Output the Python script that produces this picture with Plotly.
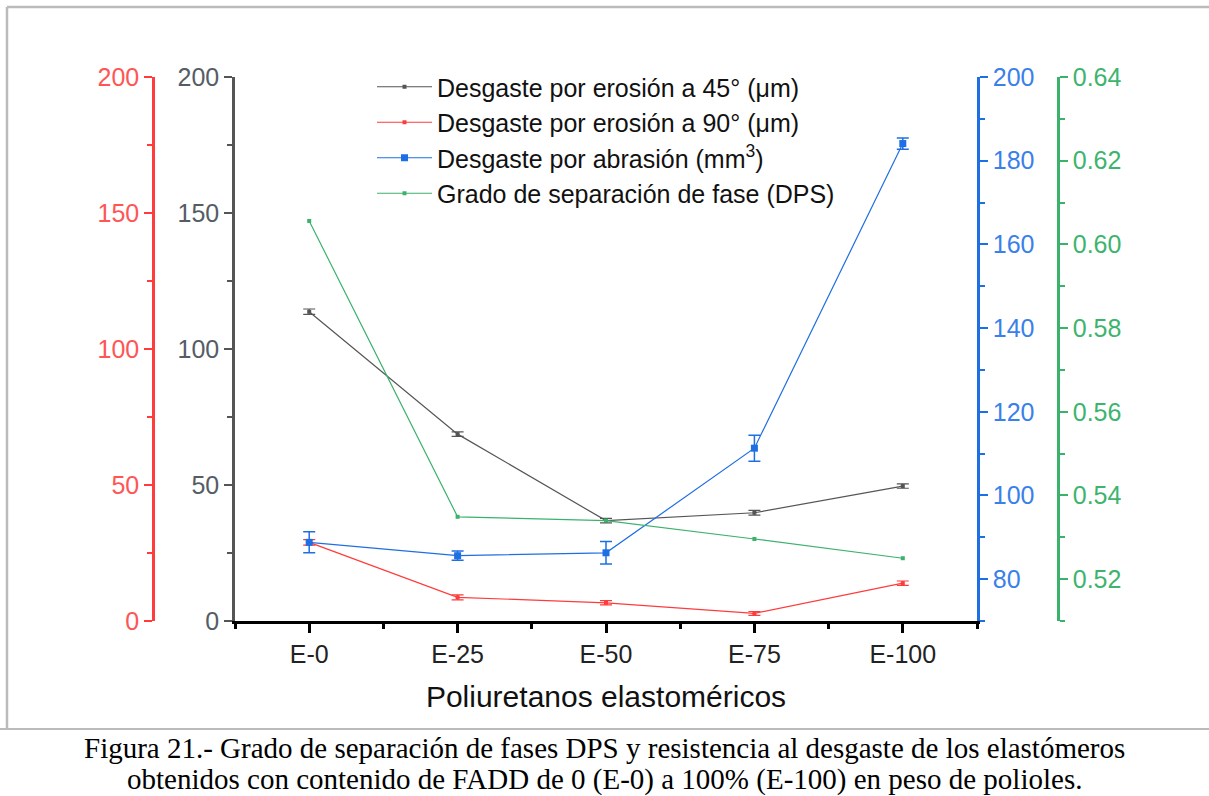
import plotly.graph_objects as go

categories = ["E-0", "E-25", "E-50", "E-75", "E-100"]
erosion45 = [113.7, 68.7, 36.9, 39.8, 49.6]
erosion45_err = [1.0, 0.8, 0.8, 0.9, 0.8]
erosion90 = [28.9, 8.7, 6.7, 2.8, 13.9]
erosion90_err = [1.0, 0.9, 0.8, 0.7, 0.8]
abrasion = [88.8, 85.6, 86.3, 111.3, 184.1]
abrasion_err = [2.5, 1.1, 2.7, 3.1, 1.35]
dps = [0.6056, 0.5349, 0.5340, 0.5296, 0.5250]

x = list(range(len(categories)))
W, H = 1209, 796

def px(v):
    return v / W

def py(v):
    return 1 - v / H

C_BLACK = "#555555"
C_RED = "#FF3B3B"
C_BLUE = "#1E6FE3"
C_GREEN = "#3BB26C"

fig = go.Figure()
fig.add_trace(go.Scatter(x=x, y=erosion45, name="Desgaste por erosión a 45° (μm)",
                         mode="lines+markers", line=dict(color=C_BLACK, width=1.2),
                         marker=dict(symbol="square", size=4, color=C_BLACK),
                         error_y=dict(type="data", array=erosion45_err, color=C_BLACK, thickness=1.2, width=6),
                         yaxis="y"))
fig.add_trace(go.Scatter(x=x, y=erosion90, name="Desgaste por erosión a 90° (μm)",
                         mode="lines+markers", line=dict(color=C_RED, width=1.2),
                         marker=dict(symbol="square", size=4, color=C_RED),
                         error_y=dict(type="data", array=erosion90_err, color=C_RED, thickness=1.2, width=6),
                         yaxis="y2"))
fig.add_trace(go.Scatter(x=x, y=abrasion, name="Desgaste por abrasión (mm<sup>3</sup>)",
                         mode="lines+markers", line=dict(color=C_BLUE, width=1.2),
                         marker=dict(symbol="square", size=7, color=C_BLUE),
                         error_y=dict(type="data", array=abrasion_err, color=C_BLUE, thickness=1.5, width=6),
                         yaxis="y3"))
fig.add_trace(go.Scatter(x=x, y=dps, name="Grado de separación de fase (DPS)",
                         mode="lines+markers", line=dict(color=C_GREEN, width=1.2),
                         marker=dict(symbol="square", size=4, color=C_GREEN),
                         yaxis="y4"))

xd = [px(235), px(977)]
yd = [py(621), py(77)]
tickfont = dict(family="Arial, Liberation Sans, sans-serif", size=25)

def yax(color, textcolor, rng, dtick, minor_dtick, **kw):
    d = dict(range=rng, domain=yd, showgrid=False, zeroline=False,
             showline=True, linecolor=color, linewidth=2.5,
             ticks="outside", ticklen=8, tickwidth=2, tickcolor=color,
             dtick=dtick, tick0=0, automargin=False,
             minor=dict(ticks="outside", ticklen=5, tickwidth=2, tickcolor=color, dtick=minor_dtick, tick0=0),
             tickfont=dict(tickfont, color=textcolor))
    d.update(kw)
    return d

fig.update_layout(
    width=W, height=H,
    margin=dict(l=0, r=0, t=0, b=0, autoexpand=False),
    paper_bgcolor="white", plot_bgcolor="white",
    showlegend=True,
    legend=dict(x=px(372), y=py(64), xanchor="left", yanchor="top",
                bgcolor="rgba(0,0,0,0)", itemwidth=55,
                font=dict(family="Arial, Liberation Sans, sans-serif", size=25, color="#111111")),
    xaxis=dict(domain=xd, range=[-0.5, 4.5], tickvals=x, ticktext=categories,
               showgrid=False, zeroline=False, showline=True, linecolor="black", linewidth=2.5,
               ticks="outside", ticklen=9, tickwidth=2.5, tickcolor="black", automargin=False,
               minor=dict(ticks="outside", ticklen=5, tickwidth=2.5, tickcolor="black", dtick=0.5, tick0=-0.5),
               tickfont=dict(tickfont, color="#222222"),
               title=dict(text="Poliuretanos elastoméricos", standoff=20,
                          font=dict(family="Arial, Liberation Sans, sans-serif", size=30, color="#111111"))),
    yaxis=yax(C_BLACK, "#555c66", [0, 200], 50, 25, side="left", anchor="x"),
    yaxis2=yax(C_RED, "#FF5555", [0, 200], 50, 25, side="left", overlaying="y",
               anchor="free", position=px(153)),
    yaxis3=yax(C_BLUE, "#3A80EA", [70, 200], 20, 10, side="right", overlaying="y", anchor="x"),
    yaxis4=yax(C_GREEN, "#3DB46D", [0.51, 0.64], 0.02, 0.01, side="right", overlaying="y",
               anchor="free", position=px(1058), tickformat=".2f"),
)

# frame lines
fig.add_shape(type="line", xref="paper", yref="paper", x0=px(7), x1=1, y0=py(7), y1=py(7),
              line=dict(color="#BBBBBB", width=2.5))
fig.add_shape(type="line", xref="paper", yref="paper", x0=px(7), x1=px(7), y0=py(7), y1=py(729),
              line=dict(color="#BBBBBB", width=2.5))
fig.add_shape(type="line", xref="paper", yref="paper", x0=0, x1=1, y0=py(729), y1=py(729),
              line=dict(color="#BBBBBB", width=2))

caption_font = dict(family="Liberation Serif, Times New Roman, serif", size=29, color="black")
fig.add_annotation(xref="paper", yref="paper", x=0.5, y=py(748), xanchor="center", yanchor="middle",
                   showarrow=False, font=caption_font,
                   text="Figura 21.- Grado de separación de fases DPS y resistencia al desgaste de los elastómeros")
fig.add_annotation(xref="paper", yref="paper", x=0.5, y=py(779), xanchor="center", yanchor="middle",
                   showarrow=False, font=caption_font,
                   text="obtenidos con contenido de FADD de 0 (E-0) a 100% (E-100) en peso de polioles.")

fig.write_html("out.html")
